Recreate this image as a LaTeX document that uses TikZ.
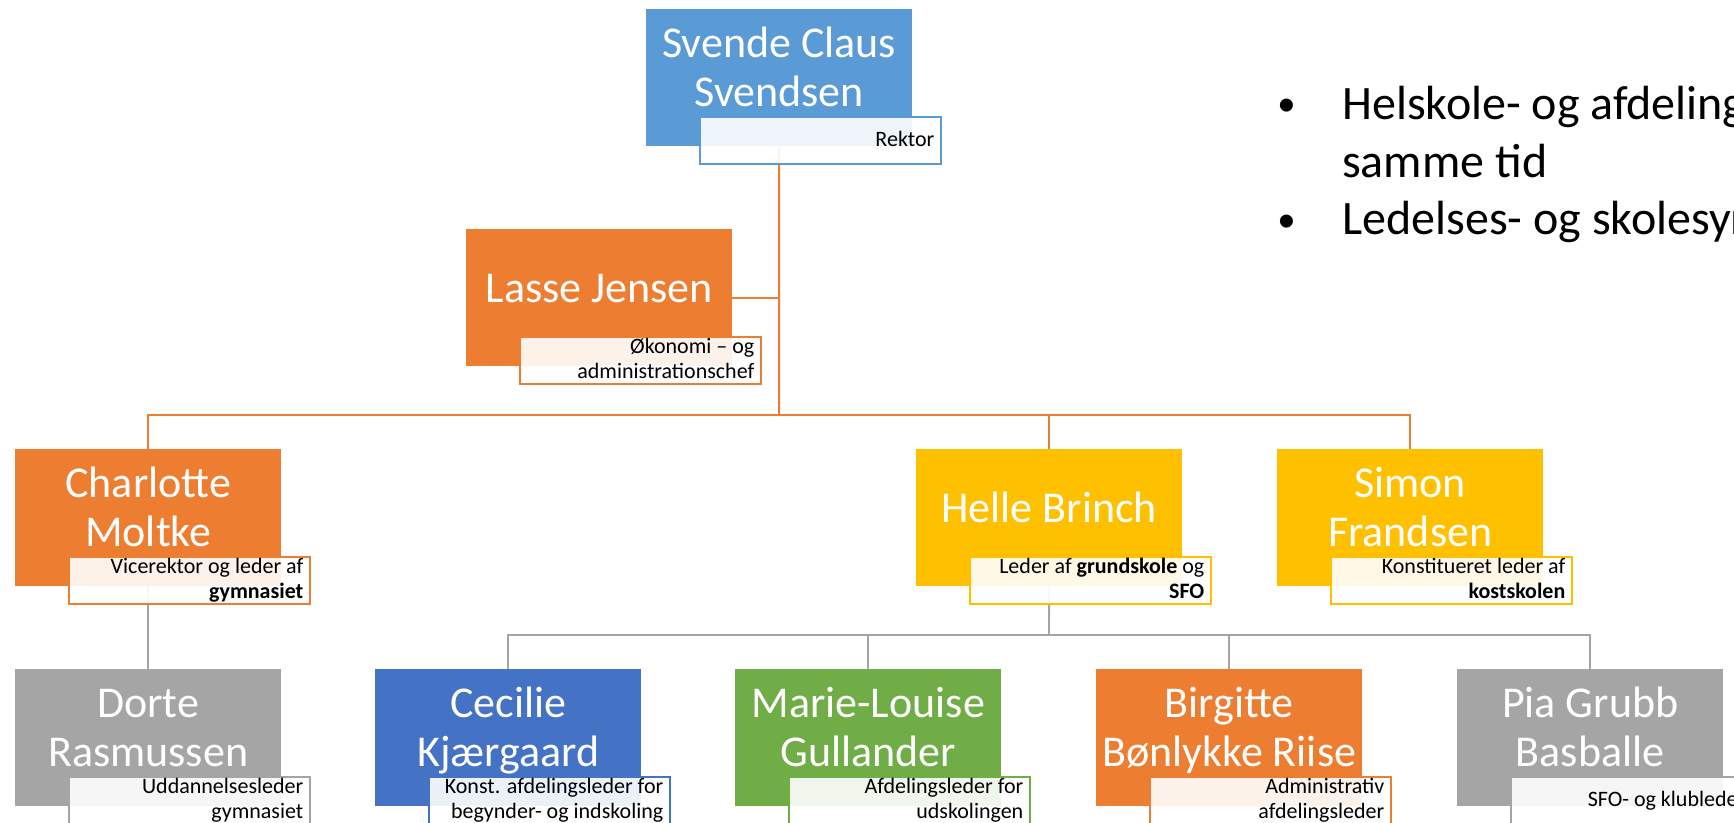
\documentclass[tikz,border=0pt]{standalone}
\usepackage{fontspec}
\setmainfont{Carlito}
\newfontfamily\bulletfont{Liberation Sans}
\usetikzlibrary{backgrounds,calc}
\definecolor{cblue}{HTML}{5B9BD5}
\definecolor{corange}{HTML}{ED7D31}
\definecolor{cgold}{HTML}{FFC000}
\definecolor{cgrey}{HTML}{A5A5A5}
\definecolor{cdblue}{HTML}{4472C4}
\definecolor{cgreen}{HTML}{70AD47}
\definecolor{lineorange}{HTML}{ED7D31}
\definecolor{linegrey}{HTML}{A5A5A5}
\tikzset{
  orgrect/.style={rectangle, inner sep=0pt, minimum width=266pt, minimum height=137pt, anchor=north west},
  nametext/.style={inner sep=0pt, text=white, align=center, font=\fontsize{44}{49}\selectfont},
  labrect/.style={rectangle, inner sep=0pt, minimum width=241pt, minimum height=47pt, anchor=north west,
    line width=1.5pt, fill=white, fill opacity=0.9},
  labtext/.style={inner sep=0pt, text=black, align=right, anchor=east, font=\fontsize{22}{25}\selectfont},
  oline/.style={draw=lineorange, line width=2pt},
  gline/.style={draw=linegrey, line width=1.8pt},
  bullettext/.style={inner sep=0pt, text=black, font=\fontsize{48}{58}\selectfont, align=left},
  bulletmark/.style={inner sep=0pt, text=black, font=\bulletfont\fontsize{48}{58}\selectfont, anchor=base},
}
\newcommand\orgbox[6]{%
  \node[orgrect, fill=#4] (#1) at (#2,#3) {};
  \node[nametext] (#1-t) at ([yshift=-63.5pt]#1.north) {\strut #5\strut};
  \node[labrect, draw=#4] (#1-l) at ([xshift=53pt,yshift=-107pt]#1.north west) {};
  \node[labtext] (#1-lt) at ([xshift=-7pt,yshift=-1pt]#1-l.east) {\strut #6\strut};
}
\begin{document}
\begin{tikzpicture}[x=1pt,y=-1pt]
\useasboundingbox (0,0) rectangle (1734,822);
\clip (0,0) rectangle (1734,822);

\orgbox{sv}{646}{9}{cblue}{Svende Claus\\Svendsen}{Rektor}
\orgbox{la}{466}{229}{corange}{Lasse Jensen}{Økonomi – og\\administrationschef}
\orgbox{ch}{15}{449}{corange}{Charlotte\\Moltke}{Vicerektor og leder af\\\textbf{gymnasiet}}
\orgbox{he}{916}{449}{cgold}{Helle Brinch}{Leder af \textbf{grundskole} og\\\textbf{SFO}}
\orgbox{si}{1277}{449}{cgold}{Simon\\Frandsen}{Konstitueret leder af\\\textbf{kostskolen}}
\orgbox{do}{15}{669}{cgrey}{Dorte\\Rasmussen}{Uddannelsesleder\\gymnasiet}
\orgbox{ce}{375}{669}{cdblue}{Cecilie\\Kjærgaard}{Konst. afdelingsleder for\\begynder- og indskoling}
\orgbox{ma}{735}{669}{cgreen}{Marie-Louise\\Gullander}{Afdelingsleder for\\udskolingen}
\orgbox{bi}{1096}{669}{corange}{Birgitte\\Bønlykke Riise}{Administrativ\\afdelingsleder}
\orgbox{pi}{1457}{669}{cgrey}{Pia Grubb\\Basballe}{SFO- og klubleder}

\coordinate (busA) at (779,415);
\coordinate (busB) at (1049,635);
\begin{scope}[on background layer]
  \draw[oline] (sv.south) -- (busA);
  \draw[oline] (la.east) -- (la.east -| busA);
  \draw[oline] (ch.north) |- (busA);
  \draw[oline] (si.north) |- (busA);
  \draw[oline] (he.north) -- (he.north |- busA);
  \draw[gline] (ch.south) -- (do.north);
  \draw[gline] (he.south) -- (busB);
  \draw[gline] (ce.north) |- (busB);
  \draw[gline] (pi.north) |- (busB);
  \draw[gline] (ma.north) -- (ma.north |- busB);
  \draw[gline] (bi.north) -- (bi.north |- busB);
\end{scope}

\node[bulletmark] (b1) at (1287,121) {•};
\node[bullettext, anchor=north west] (t1) at (1342,78.5) {\strut Helskole- og afdelingsledelse på\\samme tid};
\node[bulletmark] (b2) at (1287,237) {•};
\node[bullettext, anchor=base west] (t2) at (1342,234) {Ledelses- og skolesyn};
\end{tikzpicture}
\end{document}
